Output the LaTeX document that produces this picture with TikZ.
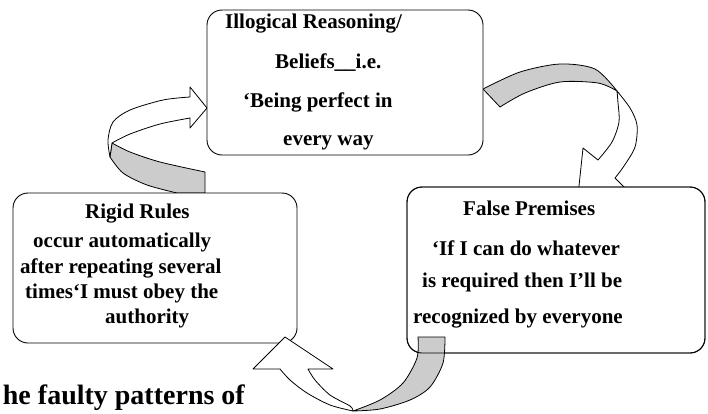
\documentclass[tikz,border=0pt]{standalone}
\usepackage{fontspec}
\setmainfont{Liberation Serif}
\definecolor{bandgray}{RGB}{204,204,204}
\begin{document}
\begin{tikzpicture}[x=1pt,y=-1pt,line join=round,
  box/.style={draw=black,line width=0.9pt,fill=white,rounded corners=15pt,inner sep=0pt},
  boxline/.style={draw=black,line width=0.9pt,rounded corners=15pt,inner sep=0pt},
  txt/.style={font=\fontsize{21}{25}\selectfont\bfseries,anchor=base west,inner sep=0pt},
  band/.style={draw=black,line width=0.8pt,fill=bandgray},
  face/.style={draw=black,line width=0.8pt,fill=white}]
\clip (0,0) rectangle (708,413);
% arrow from top box to right box
\path[band] plot[smooth] coordinates {(483,89) (520,72) (560,64) (595,69) (617,91)}
  -- plot[smooth] coordinates {(617,91) (598,83) (560,82) (525,93) (500,107)} -- cycle;
\path[face] plot[smooth] coordinates {(617,91) (630,108) (637,125) (635,147) (624,166) (615,178)}
  -- (634,197) -- (577,205) -- (583,148)
  -- plot[smooth] coordinates {(598,160) (612,142) (619,122) (618,103) (617,91)} -- cycle;
% arrow from left box to top box
\path[band] plot[smooth] coordinates {(112,143) (130,152) (160,162) (205,172)}
  -- (205,193) -- plot[smooth] coordinates {(177,193) (147,185) (123,173) (110,157)} -- cycle;
\path[face] plot[smooth] coordinates {(110,157) (108,140) (113,122) (130,110) (163,100) (190,97)}
  -- (190,87) -- (207,108) -- (190,128)
  -- plot[smooth] coordinates {(190,118) (160,124) (130,134) (112,143)} -- cycle;
% boxes
\node[box,minimum width=276pt,minimum height=145pt] (ill) at (345,82.5) {};
\node[box,minimum width=284pt,minimum height=150pt] (rig) at (155,268) {};
\node[box,minimum width=298pt,minimum height=166pt] (fal) at (556,270) {};
% arrow from right box to left box
\path[band] (418,337) -- plot[smooth] coordinates {(445,337) (443,363) (430,387) (410,400) (380,409) (353,411)}
  -- plot[smooth] coordinates {(353,411) (380,400) (403,383) (417,358) (418,337)} -- cycle;
\path[face] plot[smooth] coordinates {(353,411) (330,405) (307,393) (290,380) (280,369)}
  -- (253,369) -- (285,337) -- (333,369)
  -- plot[smooth] coordinates {(308,369) (315,380) (330,395) (350,406) (353,411)} -- cycle;
\node[boxline,minimum width=298pt,minimum height=166pt] (falo) at (fal.center) {};
% texts
\node[txt] (i1) at (225,28) {Illogical Reasoning/};
\node[txt] (i2) at (275,68) {Beliefs\_\_i.e.};
\node[txt] (i3) at (243,107) {‘Being perfect in};
\node[txt] (i4) at (283,145) {every way};
\node[txt] (r1) at (85,218) {Rigid Rules};
\node[txt] (r2) at (33,247) {occur automatically};
\node[txt] (r3) at (20,273) {after repeating several};
\node[txt] (r4) at (25,298) {times‘I must obey the};
\node[txt] (r5) at (105,323) {authority};
\node[txt] (f1) at (463,215) {False Premises};
\node[txt] (f2) at (432,255) {‘If I can do whatever};
\node[txt] (f3) at (422,287) {is required then I’ll be};
\node[txt] (f4) at (413,323) {recognized by everyone};
\node[font=\fontsize{28}{32}\selectfont\bfseries,anchor=base east,inner sep=0pt] (cap) at (245,404) {he faulty patterns of};
\end{tikzpicture}
\end{document}
